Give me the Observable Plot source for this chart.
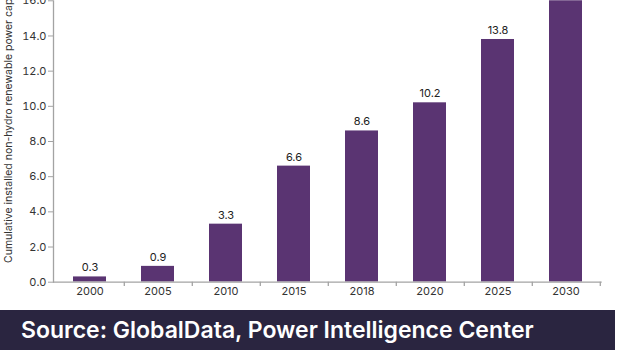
<!DOCTYPE html>
<html>
<head>
<meta charset="utf-8">
<script src="https://cdn.jsdelivr.net/npm/d3@7"></script>
<script src="https://cdn.jsdelivr.net/npm/@observablehq/plot@0.6"></script>
<style>
  html, body { margin: 0; padding: 0; background: #fff; }
  #chart { width: 620px; height: 310px; overflow: hidden; position: relative; }
  #banner {
    width: 615px; height: 40px; background: #2a2540; color: #fff;
    font-family: Inter, "Open Sans", sans-serif; font-weight: 600; font-size: 23px;
    line-height: 40px; padding-left: 21px; box-sizing: border-box; white-space: nowrap;
  }
</style>
</head>
<body>
<div id="chart"></div>
<div id="banner">Source: GlobalData, Power Intelligence Center</div>
<script>
const years = ["2000", "2005", "2010", "2015", "2018", "2020", "2025", "2030"];
const capacity = [0.3, 0.9, 3.3, 6.6, 8.6, 10.2, 13.8, 18.2];
const yTicks = [0, 2, 4, 6, 8, 10, 12, 14, 16];
const yLabel = "Cumulative installed non-hydro renewable power capacity (GW)";

const data = years.map((year, i) => ({year, value: capacity[i]}));
const axisColor = "#a3a3a3";
const textColor = "#333";
const barColor = "#5a3472";
const step = (601.7 - 53) / years.length;

const plot = Plot.plot({
  width: 620,
  height: 310,
  marginLeft: 53,
  marginRight: 18.3,
  marginTop: 0.3,
  marginBottom: 28.3,
  style: {fontFamily: "Inter, 'Open Sans', sans-serif", fontSize: "11px", color: textColor, background: "transparent"},
  x: {type: "band", domain: years, paddingInner: 0.52, paddingOuter: 0.26, label: null},
  y: {domain: [0, 16], label: null},
  marks: [
    Plot.barY(data, {x: "year", y: "value", fill: barColor, clip: true}),
    Plot.text(data, {x: "year", y: "value", text: d => d3.format(".1f")(d.value), dy: -9, fill: "#222", fontSize: 11, clip: true}),
    Plot.frame({anchor: "left", stroke: axisColor, strokeWidth: 1.3}),
    Plot.ruleY([0], {stroke: axisColor, strokeWidth: 1.3}),
    Plot.ruleX(years, {x: d => d, y1: 0, y2: -0.25, dx: step / 2, stroke: axisColor, strokeWidth: 1.3}),
    Plot.axisX({tickSize: 0, tickPadding: 5, fill: textColor, fontSize: 11, label: null}),
    Plot.axisY({ticks: yTicks, tickFormat: d3.format(".1f"), tickSize: 5, tickPadding: 2, stroke: axisColor, fill: textColor, fontSize: 11, label: null})
  ]
});

d3.select(plot).append("text")
  .attr("transform", "translate(11.5,263) rotate(-90)")
  .attr("text-anchor", "start")
  .attr("font-size", 10.5)
  .attr("fill", textColor)
  .attr("font-family", "Inter, 'Open Sans', sans-serif")
  .text(yLabel);

document.getElementById("chart").appendChild(plot);
</script>
</body>
</html>
